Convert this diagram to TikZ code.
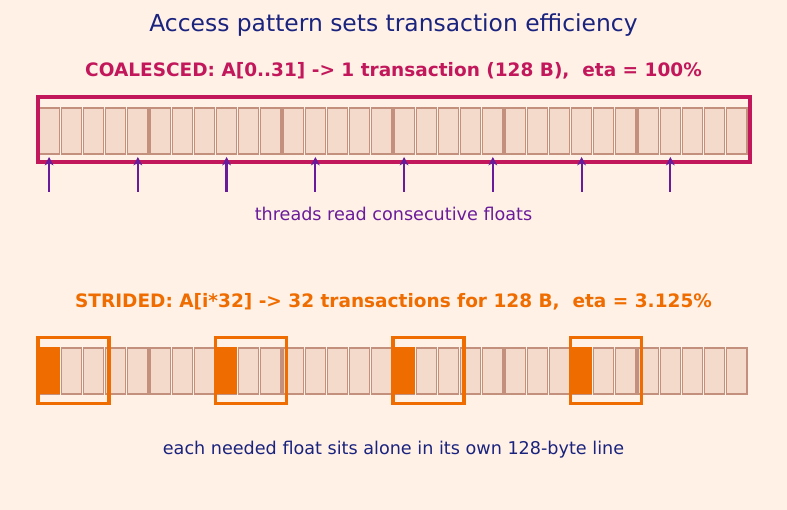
\documentclass[tikz,border=0pt]{standalone}
\usepackage{fontspec}
\setmainfont{DejaVu Sans}
\begin{document}
\begin{tikzpicture}[x=1pt,y=-1pt,
  cell/.style={draw=cellborder,fill=cellfill,line width=1.2pt},
  hot/.style={draw=hotc,fill=hotc,line width=1pt},
  cbox/.style={draw=crim,line width=4.5pt},
  sbox/.style={draw=hotc,line width=3.2pt},
  thr/.style={draw=purp,line width=2.2pt},
  thrhead/.style={fill=purp},
  txt/.style={inner sep=0pt,anchor=center}]
\definecolor{bg}{HTML}{FFF1E6}
\definecolor{cellfill}{HTML}{F4DACA}
\definecolor{cellborder}{HTML}{C4907E}
\definecolor{crim}{HTML}{C2185B}
\definecolor{hotc}{HTML}{EF6C00}
\definecolor{purp}{HTML}{6A1B9A}
\definecolor{navy}{HTML}{1A237E}
\useasboundingbox[fill=bg] (0,0) rectangle (787,510);
\node[txt,text=navy,font=\fontsize{23.4}{27}\selectfont] (title) at (393.5,25) {Access pattern sets transaction efficiency};
\node[txt,text=crim,font=\fontsize{18.5}{22}\selectfont\bfseries] (coal) at (393.5,70.5) {COALESCED: A[0..31] -> 1 transaction (128 B),\ \ eta = 100\%};
\foreach \i in {0,...,31}{
  \pgfmathsetmacro{\xa}{38+22.1875*\i+1}
  \pgfmathsetmacro{\xb}{38+22.1875*(\i+1)-1}
  \draw[cell] (\xa,108) rectangle (\xb,154);
}
\node[cbox,minimum width=712pt,minimum height=65pt,inner sep=0pt] (cbx) at (394,129.5) {};
\foreach \i in {0,...,7}{
  \pgfmathsetmacro{\xc}{38+22.1875*(4*\i+0.5)}
  \coordinate (t\i) at (\xc,192);
  \coordinate (h\i) at (\xc,157);
  \coordinate (b\i) at (\xc,163);
  \draw[thr] (t\i) -- (b\i);
  \fill[thrhead] (h\i) -- ++(-4.5,8.5) -- ++(4.5,-2.5) -- ++(4.5,2.5) -- cycle;
}
\node[txt,text=purp,font=\fontsize{17.6}{21}\selectfont] (thrtxt) at (393.5,213.5) {threads read consecutive floats};
\node[txt,text=hotc,font=\fontsize{18.5}{22}\selectfont\bfseries] (strd) at (393.5,301.5) {STRIDED: A[i*32] -> 32 transactions for 128 B,\ \ eta = 3.125\%};
\foreach \i in {0,...,31}{
  \pgfmathsetmacro{\xa}{38+22.1875*\i+1}
  \pgfmathsetmacro{\xb}{38+22.1875*(\i+1)-1}
  \draw[cell] (\xa,348) rectangle (\xb,394);
}
\foreach \k in {0,...,3}{
  \pgfmathsetmacro{\xa}{38+22.1875*8*\k}
  \pgfmathsetmacro{\xb}{38+22.1875*8*\k+21.2}
  \draw[hot] (\xa,348) rectangle (\xb,394);
  \pgfmathsetmacro{\xm}{38+22.1875*8*\k+35.5}
  \node[sbox,minimum width=71pt,minimum height=66pt,inner sep=0pt] (sb\k) at (\xm,370.5) {};
}
\node[txt,text=navy,font=\fontsize{17.6}{21}\selectfont] (foot) at (393.5,449.5) {each needed float sits alone in its own 128-byte line};
\end{tikzpicture}
\end{document}
